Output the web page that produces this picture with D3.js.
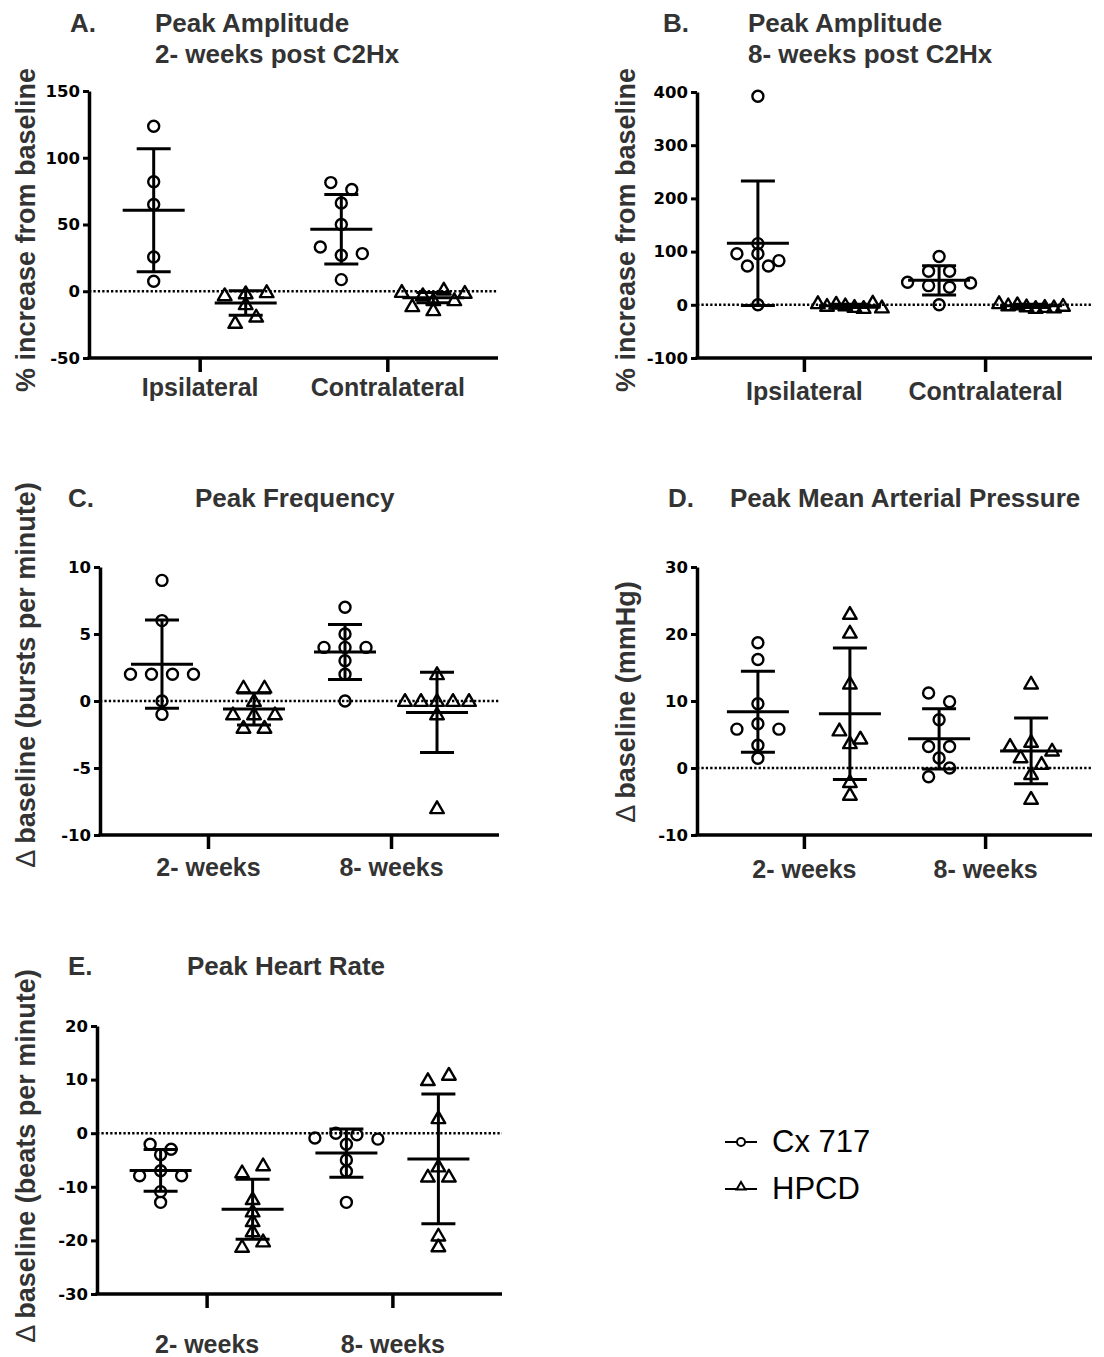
<!DOCTYPE html>
<meta charset="utf-8">
<script src="https://cdn.jsdelivr.net/npm/d3@7"></script>
<style>
body { margin: 0; background: #fff; }
text { font-family: "Liberation Sans", Arial, sans-serif; }
.tick text { font-family: "DejaVu Sans", sans-serif; font-weight: bold; font-size: 16.5px; fill: #000; }
.xaxis .tick text { font-family: "Liberation Sans", Arial, sans-serif; font-size: 25px; fill: #333; }
.title { font-weight: bold; font-size: 26px; fill: #333; }
.ylab { font-weight: bold; font-size: 27px; fill: #333; }
.legend { font-size: 31px; fill: #000; }
</style>
<body>
<script>
var width = 1104, height = 1357;

var groupNames = ["Cx 717", "HPCD"];
var sideCats = ["Ipsilateral", "Contralateral"];
var weekCats = ["2- weeks", "8- weeks"];

// every panel: [Cx cat1, HPCD cat1, Cx cat2, HPCD cat2]
// A. peak amplitude 2 weeks post C2Hx (% increase from baseline)
var ampWk2Points = [
  [123.6, 82, 65, 25.7, 7.5],
  [-3, -1.5, -0.7, -9.7, -23.7, -19],
  [81.4, 76.2, 66.1, 50, 33.2, 27, 28.2, 8.7],
  [-0.5, -3, 1.2, -1.2, -11.2, -6.7, -6.7, -14.2]
];
var ampWk2Mean = [60.7, -8.8, 46.4, -4.8];
var ampWk2SD = [46, 9.1, 26, 3.9];
var ampWk2Ticks = [-50, 0, 50, 100, 150];

// B. peak amplitude 8 weeks post C2Hx
var ampWk8Points = [
  [392, 115, 96, 96, 83, 73, 73, 0],
  [3, -2, 2, -1, -4, -6, 4, -5],
  [90.8, 63, 63, 42.5, 36, 33, 41, 0],
  [3, -1, 1, -3, -6, -4, -5, -2]
];
var ampWk8Mean = [115.5, -2, 46, -2];
var ampWk8SD = [117, 3.2, 27.5, 3];
var ampWk8Ticks = [-100, 0, 100, 200, 300, 400];

// C. peak frequency (bursts per minute)
var freqPoints = [
  [9, 6, 2, 2, 2, 2, 0, -1],
  [1, 1, 0, -1, -1, -1, -2, -2],
  [7, 5, 4, 4, 4, 3, 2, 0],
  [2, 0, 0, 0, 0, 0, -1, -8]
];
var freqMean = [2.75, -0.6, 3.65, -0.85];
var freqSD = [3.3, 1.2, 2.05, 3.0];
var freqTicks = [-10, -5, 0, 5, 10];

// D. peak mean arterial pressure (mmHg)
var mapPoints = [
  [18.7, 16.2, 9.6, 5.8, 6.6, 5.8, 3.4, 1.45],
  [23, 20.2, 12.6, 5.6, 4.4, 3.7, -2.1, -4.0],
  [11.2, 9.9, 7.2, 3.2, 3.2, 1.5, -1.3, 0],
  [12.6, 3.3, 3.9, 2.6, 1.6, 0.6, -0.9, -4.6]
];
var mapMean = [8.4, 8.1, 4.35, 2.55];
var mapSD = [6.05, 9.8, 4.5, 4.9];
var mapTicks = [-10, 0, 10, 20, 30];

// E. peak heart rate (beats per minute)
var hrPoints = [
  [-2.05, -3.0, -4.0, -7.95, -7.0, -7.95, -10.9, -12.9],
  [-7.3, -6.0, -12.3, -14.6, -16.4, -18.3, -21.2, -20.2],
  [-0.9, 0, -0.3, -1.1, -2.05, -5.0, -7.1, -12.9],
  [9.9, 10.9, 2.8, -6.2, -8.1, -8.1, -19.1, -21.1]
];
var hrMean = [-6.95, -14.2, -3.7, -4.8];
var hrSD = [3.9, 5.6, 4.5, 12.1];
var hrTicks = [-30, -20, -10, 0, 10, 20];

var panels = [
  {letter: "A.", title: ["Peak Amplitude", "2- weeks post C2Hx"], ylabel: "% increase from baseline",
   cats: sideCats, ticks: ampWk2Ticks, points: ampWk2Points, mean: ampWk2Mean, sd: ampWk2SD,
   left: 89, right: 498, top: 91, bottom: 358, letterX: 70, titleX: 155, titleY: 32,
   labX: 35, labY: 230, xlabOff: 38},
  {letter: "B.", title: ["Peak Amplitude", "8- weeks post C2Hx"], ylabel: "% increase from baseline",
   cats: sideCats, ticks: ampWk8Ticks, points: ampWk8Points, mean: ampWk8Mean, sd: ampWk8SD,
   left: 697, right: 1092, top: 92, bottom: 358, letterX: 663, titleX: 748, titleY: 32,
   labX: 635, labY: 230, xlabOff: 42},
  {letter: "C.", title: ["Peak Frequency"], ylabel: "baseline (bursts per minute)",
   cats: weekCats, ticks: freqTicks, points: freqPoints, mean: freqMean, sd: freqSD,
   left: 100, right: 499, top: 567, bottom: 835, letterX: 68, titleX: 195, titleY: 507,
   labX: 35, labY: 675, xlabOff: 41, delta: true},
  {letter: "D.", title: ["Peak Mean Arterial Pressure"], ylabel: "baseline (mmHg)",
   cats: weekCats, ticks: mapTicks, points: mapPoints, mean: mapMean, sd: mapSD,
   left: 697, right: 1092, top: 567, bottom: 835, letterX: 668, titleX: 730, titleY: 507,
   labX: 635, labY: 702, xlabOff: 43, delta: true},
  {letter: "E.", title: ["Peak Heart Rate"], ylabel: "baseline (beats per minute)",
   cats: weekCats, ticks: hrTicks, points: hrPoints, mean: hrMean, sd: hrSD,
   left: 97, right: 502, top: 1026, bottom: 1294, letterX: 68, titleX: 187, titleY: 975,
   labX: 35, labY: 1156, xlabOff: 59, delta: true}
];

var svg = d3.select("body").append("svg")
    .attr("width", width)
    .attr("height", height);

var triangle = d3.symbol().type(d3.symbolTriangle).size(80);

// spread points of near-equal value side by side, like a column scatter
function swarm(values, y) {
  var order = values.map(function(v, i) { return i; })
    .sort(function(a, b) { return values[b] - values[a]; });
  var offs = new Array(values.length).fill(0);
  var rows = [];
  order.forEach(function(i) {
    var last = rows[rows.length - 1];
    if (last && Math.abs(y(values[i]) - y(values[last[0]])) < 9) last.push(i);
    else rows.push([i]);
  });
  rows.forEach(function(r) {
    r.sort(function(a, b) { return a - b; });
    var n = r.length;
    if (n < 2) return;
    var step = Math.min(21, 64 / (n - 1));
    r.forEach(function(idx, k) { offs[idx] = (k - (n - 1) / 2) * step; });
  });
  return values.map(function(v, i) { return {v: v, dx: offs[i]}; });
}

panels.forEach(function(p) {
  var y = d3.scaleLinear().domain(d3.extent(p.ticks)).range([p.bottom, p.top]);
  var x = d3.scalePoint().domain(p.cats).range([p.left, p.right]).padding(0.59);
  var sub = d3.scalePoint().domain(groupNames).range([-46, 46]);
  var g = svg.append("g");

  // titles
  g.append("text").attr("class", "title").attr("x", p.letterX).attr("y", p.titleY).text(p.letter);
  p.title.forEach(function(t, i) {
    g.append("text").attr("class", "title").attr("x", p.titleX).attr("y", p.titleY + i * 31).text(t);
  });

  // y label
  var yl = g.append("text").attr("class", "ylab")
    .attr("text-anchor", "middle")
    .attr("transform", "translate(" + p.labX + "," + p.labY + ")rotate(-90)");
  if (p.delta) {
    yl.append("tspan").attr("font-weight", "normal").text("\u0394 ");
  }
  yl.append("tspan").text(p.ylabel);

  // zero line
  g.append("line")
    .attr("x1", p.left).attr("x2", p.right)
    .attr("y1", y(0)).attr("y2", y(0))
    .attr("stroke", "#000").attr("stroke-width", 2.4)
    .attr("stroke-dasharray", "2.3,2.1");

  // axes
  var ya = g.append("g")
    .attr("transform", "translate(" + p.left + ",0)")
    .call(d3.axisLeft(y).tickValues(p.ticks).tickSize(6).tickSizeOuter(0).tickPadding(3)
      .tickFormat(function(d) { return String(d); }));
  ya.select(".domain").attr("stroke-width", 3.5);
  ya.selectAll(".tick line").attr("stroke-width", 3);

  var xa = g.append("g").attr("class", "xaxis")
    .attr("transform", "translate(0," + p.bottom + ")")
    .call(d3.axisBottom(x).tickSize(14).tickSizeOuter(0).tickPadding(p.xlabOff - 32));
  xa.select(".domain").attr("stroke-width", 3.5).attr("d", "M" + (p.left - 1.5) + ",0H" + p.right);
  xa.selectAll(".tick line").attr("stroke-width", 3.5);

  // groups
  p.cats.forEach(function(c, ci) {
    groupNames.forEach(function(gname, gi) {
      var k = ci * 2 + gi;
      var cx = x(c) + sub(gname);
      var pts = swarm(p.points[k], y);
      var sg = g.append("g");
      if (gi === 0) {
        sg.selectAll("circle").data(pts).enter().append("circle")
          .attr("cx", function(d) { return cx + d.dx; })
          .attr("cy", function(d) { return y(d.v); })
          .attr("r", 5.5)
          .attr("fill", "none").attr("stroke", "#000").attr("stroke-width", 2.4);
      } else {
        sg.selectAll("path").data(pts).enter().append("path")
          .attr("d", triangle)
          .attr("transform", function(d) { return "translate(" + (cx + d.dx) + "," + (y(d.v) + 1) + ")"; })
          .attr("fill", "none").attr("stroke", "#000").attr("stroke-width", 2.4)
          .attr("stroke-linejoin", "round");
      }
      var m = p.mean[k], s = p.sd[k];
      var bars = [
        [cx, y(m - s), cx, y(m + s)],
        [cx - 31, y(m), cx + 31, y(m)],
        [cx - 17, y(m + s), cx + 17, y(m + s)],
        [cx - 17, y(m - s), cx + 17, y(m - s)]
      ];
      sg.selectAll("line").data(bars).enter().append("line")
        .attr("x1", function(d) { return d[0]; }).attr("y1", function(d) { return d[1]; })
        .attr("x2", function(d) { return d[2]; }).attr("y2", function(d) { return d[3]; })
        .attr("stroke", "#000").attr("stroke-width", 3);
    });
  });
});

// legend
var legendY = [1142, 1189];
var lg = svg.append("g");
groupNames.forEach(function(name, i) {
  var ly = legendY[i];
  lg.append("line").attr("x1", 725).attr("x2", 757).attr("y1", ly).attr("y2", ly)
    .attr("stroke", "#000").attr("stroke-width", 2);
  if (i === 0) {
    lg.append("circle").attr("cx", 741).attr("cy", ly).attr("r", 4)
      .attr("fill", "#fff").attr("stroke", "#000").attr("stroke-width", 2);
  } else {
    lg.append("path").attr("d", d3.symbol().type(d3.symbolTriangle).size(34))
      .attr("transform", "translate(741," + (ly - 2) + ")")
      .attr("fill", "#fff").attr("stroke", "#000").attr("stroke-width", 2);
  }
  lg.append("text").attr("class", "legend").attr("x", 772).attr("y", ly + 10).text(name);
});
</script>
</body>
</html>
